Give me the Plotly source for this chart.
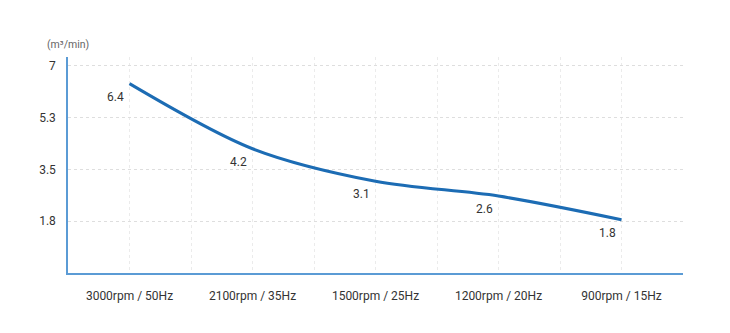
import plotly.graph_objects as go

categories = ["3000rpm / 50Hz", "2100rpm / 35Hz", "1500rpm / 25Hz", "1200rpm / 20Hz", "900rpm / 15Hz"]
values = [6.4, 4.2, 3.1, 2.6, 1.8]
labels = ["6.4", "4.2", "3.1", "2.6", "1.8"]
y_ticks = [1.75, 3.5, 5.25, 7]
y_tick_text = ["1.8", "3.5", "5.3", "7"]
unit_label = "(m³/min)"

x_idx = list(range(len(categories)))

fig = go.Figure()
fig.add_trace(go.Scatter(
    x=x_idx, y=values, mode="lines",
    line=dict(color="#1c6cb4", width=3, shape="spline", smoothing=0.9),
    cliponaxis=False, hoverinfo="skip",
))

annotations = [dict(
    x=xi, y=v, text=t, xref="x", yref="y", showarrow=False,
    xshift=-14, yshift=-13, xanchor="center", yanchor="middle",
    font=dict(family="Roboto", size=12, color="#333333"),
) for xi, v, t in zip(x_idx, values, labels)]
annotations.append(dict(
    text=unit_label, xref="paper", yref="paper", x=0, y=1,
    xanchor="center", yanchor="bottom", yshift=4, showarrow=False,
    font=dict(family="Roboto", size=10.5, color="#666666"),
))

fig.update_layout(
    width=730, height=333,
    margin=dict(l=68, r=47, t=57, b=60),
    paper_bgcolor="white", plot_bgcolor="white",
    showlegend=False,
    font=dict(family="Roboto", size=12, color="#333333"),
    xaxis=dict(
        range=[-0.5, 4.5], tickvals=x_idx, ticktext=categories,
        showgrid=True, gridcolor="#ebebeb", griddash="dot", gridwidth=1,
        minor=dict(dtick=0.5, tick0=0.5, showgrid=True, gridcolor="#ebebeb", griddash="dot", gridwidth=1),
        showline=True, linecolor="#5b9bd5", linewidth=1.5,
        ticks="", ticklabelstandoff=11, zeroline=False,
        tickfont=dict(family="Roboto", size=12, color="#333333"),
    ),
    yaxis=dict(
        range=[0, 7.3], tickvals=y_ticks, ticktext=y_tick_text,
        showgrid=True, gridcolor="#dedede", griddash="dot", gridwidth=1,
        showline=True, linecolor="#5b9bd5", linewidth=1.5,
        ticks="", ticklabelstandoff=8, zeroline=False,
        tickfont=dict(family="Roboto", size=12, color="#333333"),
    ),
    annotations=annotations,
)

fig.write_html("out.html")
